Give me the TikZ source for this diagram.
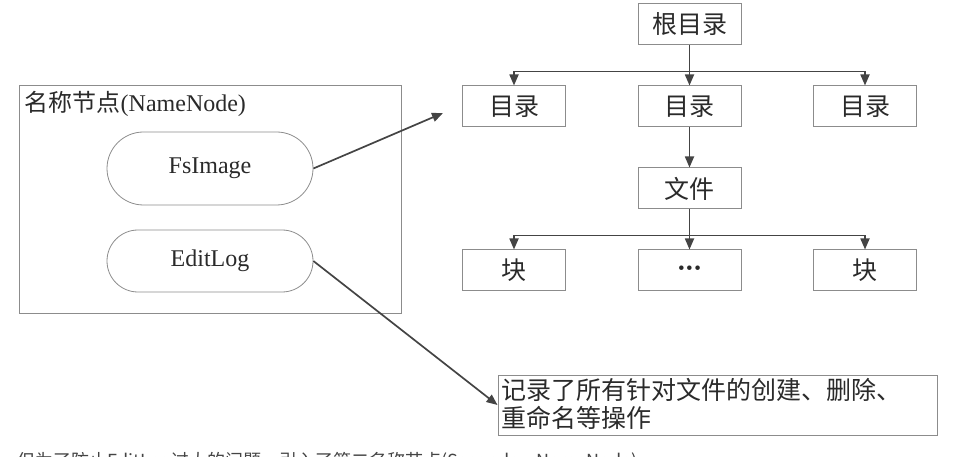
\documentclass[tikz,border=0pt]{standalone}
\usepackage{fontspec}
\setmainfont{Liberation Serif}
\newfontfamily\cjk{Noto Sans CJK SC}
\usetikzlibrary{arrows.meta}
\definecolor{boxline}{HTML}{8C8C8C}
\definecolor{arrowline}{HTML}{444444}
\definecolor{inktext}{HTML}{2A2A2A}
\definecolor{webtext}{HTML}{444444}
\begin{document}
\begin{tikzpicture}[x=1pt, y=1pt,
            sibling distance=175.5pt, level distance=82pt,
            dirbox/.style = {shape=rectangle, draw=boxline, line width=1pt,
                minimum width=103pt, minimum height=41pt, inner sep=0pt,
                text=inktext, font=\fontsize{25}{28}\selectfont},
            pill/.style = {shape=rectangle, draw=boxline, line width=0.8pt,
                minimum width=206pt, inner sep=0pt, text=inktext,
                font=\fontsize{24}{28}\selectfont},
            link/.style = {draw=arrowline, line width=1.7pt,
                -{Triangle[length=11pt, width=9pt]}},
            edge from parent/.style = {link},
            edge from parent path = {(\tikzparentnode.south) -- ++(0,-26pt)
                -| (\tikzchildnode.north)}]

            \useasboundingbox (0,0) rectangle (954,-457);

            % name node with its two files
            \node[draw=boxline, line width=1pt, minimum width=382pt,
                minimum height=228pt, inner sep=0pt] (namenode) at (210,-199.5) {};
            \node[anchor=north west, inner sep=0pt, text=inktext,
                font=\fontsize{24}{28}\selectfont] (nntitle)
                at ([shift={(6,-6)}]namenode.north west) {{\cjk 名称节点}(NameNode)};
            \node[pill, minimum height=73pt, rounded corners=36.5pt] (fsimage)
                at (210,-168.5) {FsImage};
            \node[pill, minimum height=62pt, rounded corners=31pt] (editlog)
                at (210,-261) {EditLog};

            % directory tree
            \node[dirbox] (root) at (689.5,-24.5) {\cjk 根目录}
                child { node[dirbox] (dirL) {\cjk 目录} }
                child { node[dirbox] (dirM) {\cjk 目录}
                    child { node[dirbox] (file) {\cjk 文件}
                        child { node[dirbox] (blkL) {\cjk 块} }
                        child { node[dirbox] (blkM)
                            {\fontsize{19}{19}\selectfont\textbullet\hspace{1.5pt}\textbullet\hspace{1.5pt}\textbullet} }
                        child { node[dirbox] (blkR) {\cjk 块} }
                    }
                }
                child { node[dirbox] (dirR) {\cjk 目录} }
            ;

            % edit log note
            \node[draw=boxline, line width=1pt, minimum width=439pt,
                minimum height=60pt, inner sep=0pt] (note) at (717.5,-405) {};
            \node[anchor=north west, align=left, inner sep=0pt, text=inktext,
                font=\cjk\fontsize{25}{28}\selectfont] (notetext)
                at ([shift={(4,-4)}]note.north west)
                {记录了所有针对文件的创建、删除、\\重命名等操作};

            \coordinate (fstip) at (443,-113);
            \draw[link] (fsimage.east) -- (fstip);
            \draw[link] (editlog.east) -- (note.west);

            % cut-off line of page text
            \node[anchor=base west, inner sep=0pt, text=webtext,
                font=\cjk\fontsize{18}{20}\selectfont] (pagetext) at (17,-467)
                {但为了防止EditLog过大的问题，引入了第二名称节点(SecondaryNameNode)};

        \end{tikzpicture}
\end{document}
